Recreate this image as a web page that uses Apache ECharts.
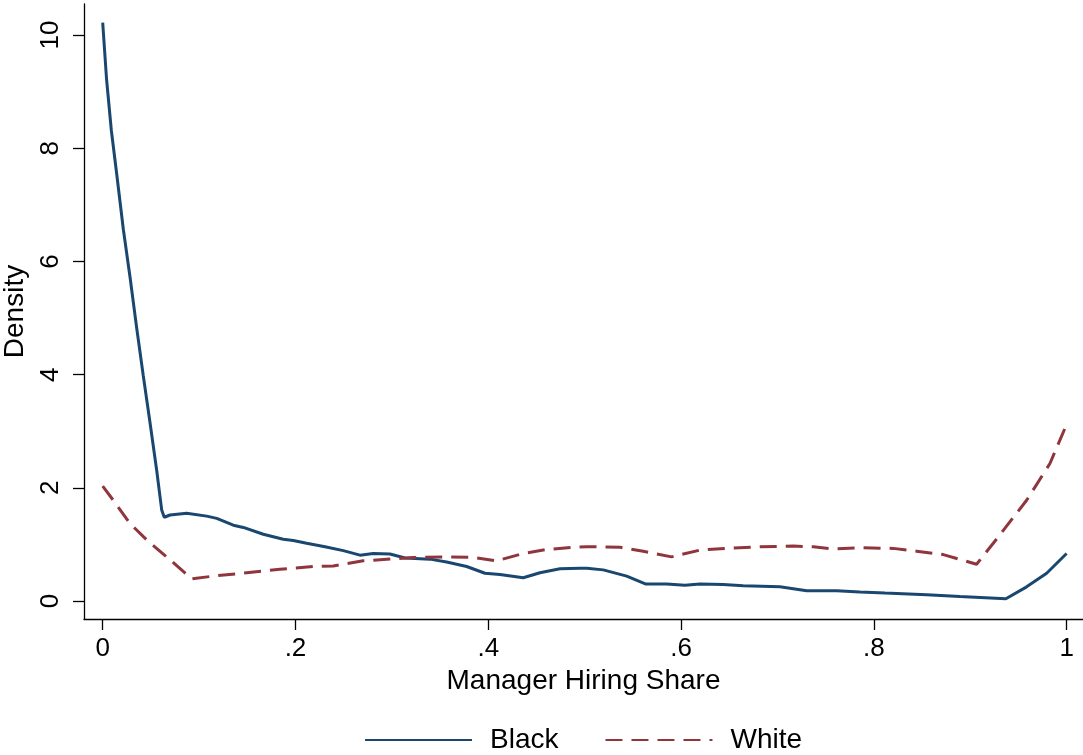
<!DOCTYPE html>
<html>
<head>
<meta charset="utf-8">
<script src="https://cdn.jsdelivr.net/npm/echarts@6/dist/echarts.min.js"></script>
<style>
  html, body { margin: 0; padding: 0; background: #fff; }
  #chart { width: 1083px; height: 755px; }
</style>
</head>
<body>
<div id="chart"></div>
<script>
// Kernel density of manager hiring share, by group
const blackX = [0.000, 0.004, 0.009, 0.0145, 0.0214, 0.0283, 0.0353, 0.0421, 0.0491, 0.0560, 0.0612, 0.0639,
  0.0698, 0.0871, 0.1079, 0.1183, 0.1355, 0.1459, 0.1666, 0.1873, 0.1977, 0.2116, 0.2306, 0.2496, 0.2669,
  0.2807, 0.2980, 0.3136, 0.3395, 0.3568, 0.3776, 0.3966, 0.4121, 0.4363, 0.4536, 0.4744, 0.4951, 0.5021,
  0.5193, 0.5436, 0.5636, 0.5851, 0.6040, 0.6196, 0.6438, 0.6645, 0.7026, 0.7303, 0.7614, 0.7856, 0.8115,
  0.8548, 0.8893, 0.9370, 0.9585, 0.9793, 1.000];
const blackY = [10.22, 9.22, 8.31, 7.55, 6.57, 5.73, 4.82, 3.98, 3.15, 2.31, 1.61, 1.48,
  1.52, 1.55, 1.50, 1.46, 1.34, 1.30, 1.18, 1.09, 1.07, 1.02, 0.96, 0.89, 0.81,
  0.84, 0.83, 0.76, 0.74, 0.69, 0.61, 0.49, 0.47, 0.41, 0.50, 0.57, 0.58, 0.58,
  0.55, 0.44, 0.30, 0.30, 0.28, 0.30, 0.29, 0.27, 0.25, 0.18, 0.18, 0.16, 0.14,
  0.11, 0.08, 0.04, 0.25, 0.49, 0.84];

const whiteX = [0.000, 0.011, 0.0283, 0.0456, 0.0664, 0.0923, 0.1147, 0.1494, 0.1839, 0.2185, 0.2392,
  0.2703, 0.3050, 0.3222, 0.3568, 0.3844, 0.4087, 0.4363, 0.4606, 0.4882, 0.5021, 0.5366, 0.5608,
  0.5902, 0.6196, 0.6473, 0.6818, 0.7164, 0.7372, 0.7579, 0.7856, 0.8201, 0.8444, 0.8720, 0.9066,
  0.9239, 0.9585, 0.9827, 1.000];
const whiteY = [2.03, 1.78, 1.37, 1.08, 0.78, 0.39, 0.44, 0.50, 0.56, 0.61, 0.62,
  0.71, 0.75, 0.77, 0.78, 0.77, 0.71, 0.84, 0.91, 0.95, 0.96, 0.95, 0.88,
  0.78, 0.90, 0.93, 0.96, 0.97, 0.96, 0.92, 0.94, 0.93, 0.88, 0.82, 0.65,
  1.02, 1.78, 2.43, 3.12];

const xTicks = [0, 0.2, 0.4, 0.6, 0.8, 1];
const xTickLabels = ['0', '.2', '.4', '.6', '.8', '1'];
const yTicks = [0, 2, 4, 6, 8, 10];

const seriesNames = ['Black', 'White'];
const xTitle = 'Manager Hiring Share';
const yTitle = 'Density';

const FONT = '"Liberation Sans", Arial, Helvetica, sans-serif';
const pairs = (xs, ys) => xs.map((x, i) => [x, ys[i]]);

const chart = echarts.init(document.getElementById('chart'), null, { renderer: 'canvas' });
chart.setOption({
  animation: false,
  backgroundColor: '#ffffff',
  grid: { left: 84, right: 0, top: 4, bottom: 136, containLabel: false, outerBoundsMode: 'none' },
  xAxis: {
    type: 'value',
    min: -0.0194,
    max: 1.017,
    name: xTitle,
    nameLocation: 'middle',
    nameGap: 47,
    nameTextStyle: { fontFamily: FONT, fontSize: 28, color: '#000' },
    axisLine: { show: true, onZero: false, lineStyle: { color: '#000', width: 1.3 } },
    axisTick: { show: true, length: 11, customValues: xTicks, lineStyle: { color: '#000', width: 1.3 } },
    axisLabel: {
      customValues: xTicks,
      margin: 17,
      fontFamily: FONT, fontSize: 26, color: '#000',
      formatter: v => xTickLabels[xTicks.findIndex(t => Math.abs(t - v) < 1e-9)]
    },
    splitLine: { show: false }
  },
  yAxis: {
    type: 'value',
    min: -0.318,
    max: 10.55,
    name: yTitle,
    nameLocation: 'middle',
    nameRotate: 90,
    nameGap: 55,
    nameTextStyle: { fontFamily: FONT, fontSize: 28, color: '#000' },
    axisLine: { show: true, onZero: false, lineStyle: { color: '#000', width: 1.3 } },
    axisTick: { show: true, length: 11, customValues: yTicks, lineStyle: { color: '#000', width: 1.3 } },
    axisLabel: {
      customValues: yTicks,
      rotate: 90,
      margin: 20,
      fontFamily: FONT, fontSize: 26, color: '#000'
    },
    splitLine: { show: false }
  },
  legend: {
    left: 364,
    top: 726,
    padding: 0,
    itemWidth: 107,
    itemHeight: 20,
    itemGap: 46,
    itemStyle: { opacity: 0 },
    textStyle: { fontFamily: FONT, fontSize: 28, color: '#000', padding: [0, 0, 0, 13] },
    data: seriesNames
  },
  series: [
    {
      name: seriesNames[0],
      type: 'line',
      data: pairs(blackX, blackY),
      showSymbol: false,
      symbol: 'none',
      color: '#1a476f',
      lineStyle: { color: '#1a476f', width: 3 }
    },
    {
      name: seriesNames[1],
      type: 'line',
      data: pairs(whiteX, whiteY),
      showSymbol: false,
      symbol: 'none',
      color: '#90353b',
      lineStyle: { color: '#90353b', width: 3, type: [17, 9] }
    }
  ]
});
</script>
</body>
</html>
